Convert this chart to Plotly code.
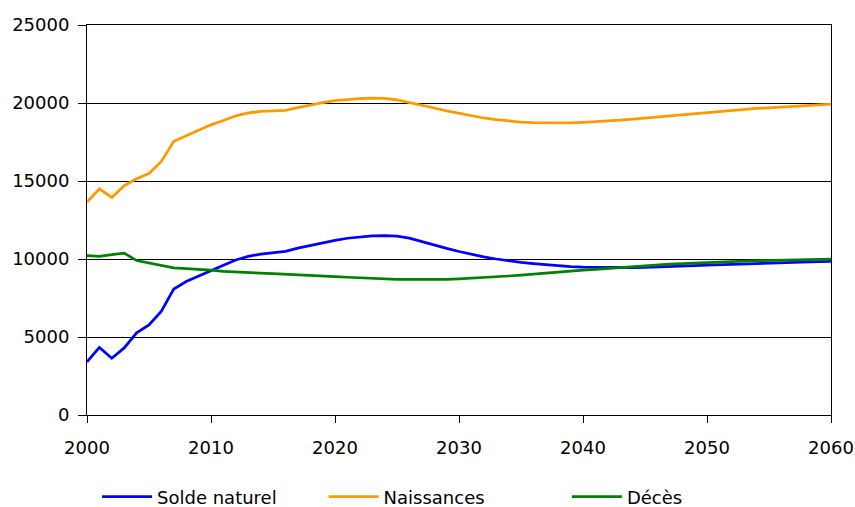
import plotly.graph_objects as go

years = list(range(2000, 2061))

naissances = [13650, 14500, 13950, 14700, 15150, 15480, 16250, 17550, 17900, 18250,
              18600, 18880, 19180, 19360, 19460, 19500, 19530, 19700, 19880, 20030,
              20150, 20220, 20280, 20310, 20290, 20200, 20040, 19850, 19680, 19500,
              19340, 19180, 19040, 18930, 18850, 18780, 18740, 18730, 18720, 18730,
              18760, 18800, 18850, 18900, 18970, 19040, 19110, 19180, 19250, 19320,
              19400, 19480, 19550, 19600, 19650, 19690, 19730, 19770, 19820, 19870,
              19930]

deces = [10210, 10170, 10280, 10380, 9900, 9740, 9570, 9430, 9380, 9340,
         9280, 9210, 9160, 9120, 9090, 9060, 9030, 8990, 8950, 8910,
         8870, 8830, 8790, 8750, 8720, 8700, 8690, 8680, 8680, 8690,
         8720, 8760, 8800, 8850, 8910, 8970, 9040, 9100, 9150, 9220,
         9280, 9340, 9400, 9460, 9520, 9570, 9620, 9670, 9710, 9750,
         9780, 9810, 9840, 9870, 9890, 9910, 9940, 9970, 9990, 10000,
         10000]

solde = [3400, 4330, 3640, 4300, 5270, 5780, 6650, 8080, 8560, 8920,
         9280, 9600, 9940, 10170, 10310, 10400, 10490, 10700, 10880, 11060,
         11200, 11330, 11420, 11490, 11500, 11460, 11340, 11110, 10900, 10680,
         10480, 10300, 10140, 10000, 9880, 9780, 9700, 9630, 9570, 9510,
         9480, 9460, 9440, 9430, 9440, 9460, 9480, 9510, 9540, 9570,
         9610, 9640, 9670, 9700, 9720, 9740, 9760, 9790, 9810, 9830,
         9850]

x_ticks = [2000, 2010, 2020, 2030, 2040, 2050, 2060]
y_ticks = [0, 5000, 10000, 15000, 20000, 25000]

FONT = "DejaVu Sans"

fig = go.Figure()
fig.add_trace(go.Scatter(x=years, y=solde, mode="lines", name="Solde naturel",
                         line=dict(color="#0000FF", width=2.75), legend="legend"))
fig.add_trace(go.Scatter(x=years, y=naissances, mode="lines", name="Naissances",
                         line=dict(color="#FF9900", width=2.75), legend="legend2"))
fig.add_trace(go.Scatter(x=years, y=deces, mode="lines", name="Décès",
                         line=dict(color="#008000", width=2.75), legend="legend3"))

leg_common = dict(orientation="h", yanchor="middle", y=-0.21, xanchor="left",
                  bgcolor="rgba(0,0,0,0)", borderwidth=0,
                  font=dict(family=FONT, size=18, color="#000000"), itemwidth=50)

fig.update_layout(
    width=855, height=507,
    margin=dict(l=87, r=24, t=25, b=92, autoexpand=False),
    paper_bgcolor="white", plot_bgcolor="white",
    font=dict(family=FONT, size=18, color="#000000"),
    showlegend=True,
    legend=dict(x=0.0135, **leg_common),
    legend2=dict(x=0.318, **leg_common),
    legend3=dict(x=0.645, **leg_common),
    xaxis=dict(range=[2000, 2060], tickvals=x_ticks, ticktext=[str(v) for v in x_ticks],
               showgrid=False, zeroline=False, showline=True, linecolor="black",
               linewidth=1, mirror=True, ticks="outside", ticklen=7, tickcolor="black",
               ticklabelstandoff=9, tickfont=dict(family=FONT, size=18), automargin=False),
    yaxis=dict(range=[0, 25000], tickvals=y_ticks, tickformat="d",
               showgrid=True, gridcolor="black", gridwidth=1, zeroline=False,
               showline=True, linecolor="black", linewidth=1, mirror=True,
               ticks="outside", ticklen=8, tickcolor="black",
               ticklabelstandoff=5, tickfont=dict(family=FONT, size=18), automargin=False),
)

# remove the default 8px page margin so the 855x507 figure fills the window exactly
fig.write_html("out.html",
               config={"displayModeBar": False},
               post_script="document.body.style.margin='0';document.body.style.overflow='hidden';")
